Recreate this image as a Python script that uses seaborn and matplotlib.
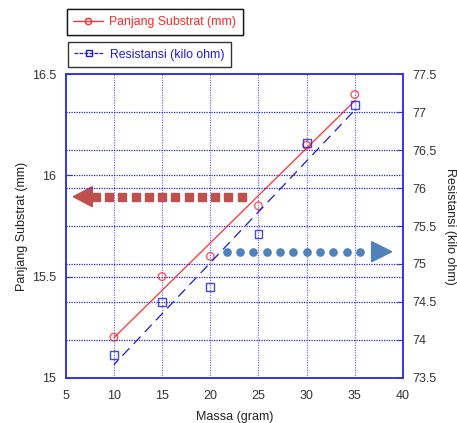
import numpy as np
import pandas as pd
import matplotlib
matplotlib.use("Agg")
import matplotlib.pyplot as plt
import seaborn as sns
from matplotlib.lines import Line2D
from matplotlib.patches import Polygon

massa = [10, 15, 20, 25, 30, 35]
panjang = [15.2, 15.5, 15.6, 15.85, 16.15, 16.4]
resistansi = [73.8, 74.5, 74.7, 75.4, 76.6, 77.1]
label_panjang = "Panjang Substrat (mm)"
label_res = "Resistansi (kilo ohm)"

df = pd.DataFrame({"massa": massa, "panjang": panjang, "res": resistansi})

sns.set_style("white")
plt.rcParams['font.family'] = ['Liberation Sans', 'DejaVu Sans']

RED = "#FF3030"
BLUE = "#1A1AE6"
FRAME = "#3333EE"

fig = plt.figure(figsize=(4.57, 4.23), dpi=100)
ax = fig.add_axes([0.1438, 0.1071, 0.7380, 0.7172])
ax2 = ax.twinx()

ax.set_xlim(5, 40)
ax.set_ylim(15, 16.5)
ax2.set_ylim(73.5, 77.5)
ax.set_xticks(np.arange(5, 41, 5))
ax.set_yticks([15, 15.5, 16, 16.5])
ax.set_yticklabels(["15", "15.5", "16", "16.5"])
ax2.set_yticks(np.arange(73.5, 77.6, 0.5))
ax2.set_yticklabels(["73.5", "74", "74.5", "75", "75.5", "76", "76.5", "77", "77.5"])

ax.grid(False)
ax2.grid(False)
for xv in np.arange(10, 40, 5):
    ax.axvline(xv, color="#7070FF", lw=0.9, ls=(0, (1, 1)), zorder=0)
for yv in [15.5, 16]:
    ax.axhline(yv, color="#2222DD", lw=0.9, ls=(0, (1, 1)), zorder=0)
for yv in np.arange(74, 77.1, 0.5):
    ax2.axhline(yv, color="#2222DD", lw=0.9, ls=(0, (1, 1)), zorder=0)

sns.regplot(data=df, x="massa", y="panjang", ax=ax, ci=None, marker="o",
            scatter_kws=dict(s=30, facecolors="none", edgecolors=RED, linewidths=1.0),
            line_kws=dict(color=RED, lw=0.9))
sns.regplot(data=df, x="massa", y="res", ax=ax2, ci=None, marker="s",
            scatter_kws=dict(s=32, facecolors="none", edgecolors=BLUE, linewidths=1.0),
            line_kws=dict(color=BLUE, lw=0.9, ls=(3, (8, 5))))

for a in (ax, ax2):
    for sp in a.spines.values():
        sp.set_color(FRAME)
        sp.set_linewidth(1.2)
ax.tick_params(axis="y", direction="in", length=4, color=FRAME, labelsize=9,
               labelcolor="#333333", pad=7)
ax.tick_params(axis="x", direction="in", length=4, color=FRAME, labelsize=9,
               labelcolor="#333333", pad=9)
ax2.tick_params(axis="y", direction="in", length=4, color=FRAME, labelsize=9,
                labelcolor="#333333", pad=7)

ax.set_xlabel("Massa (gram)", fontsize=9, color="#222222", labelpad=6)
ax.set_ylabel(label_panjang, fontsize=9, color="#222222", labelpad=3)
ax2.set_ylabel(label_res, fontsize=9, color="#222222", rotation=-90, labelpad=14)

# decorative arrows
tr = ax.transAxes
yr = 0.5966
xs = np.linspace(0.089, 0.522, 12)
ax.plot(xs, [yr] * len(xs), ls="none", marker="s", ms=5.2, color="#C0504D",
        transform=tr, clip_on=False, zorder=5)
ax.add_patch(Polygon([[0.0225, yr], [0.079, yr + 0.033], [0.079, yr - 0.033]],
                     closed=True, color="#C0504D", transform=tr, zorder=5))
yb = 0.4153
xb = np.linspace(0.477, 0.873, 11)
ax.plot(xb, [yb] * len(xb), ls="none", marker="o", ms=5.2, color="#4F81BD",
        transform=tr, clip_on=False, zorder=5)
ax.add_patch(Polygon([[0.9665, yb], [0.907, yb + 0.033], [0.907, yb - 0.033]],
                     closed=True, color="#4F81BD", transform=tr, zorder=5))

h1 = Line2D([], [], color=RED, lw=0.9, marker="o", ms=4.5, mfc="none", mec=RED)
h2 = Line2D([], [], color=BLUE, lw=0.9, marker="s", ms=4.5, mfc="none", mec=BLUE,
            ls=(0, (3, 1)))
leg1 = fig.legend([h1], [label_panjang], loc="upper left", bbox_to_anchor=(0.146, 0.978),
                  frameon=True, fancybox=False, edgecolor="black", fontsize=8.8,
                  handlelength=2.4, handletextpad=0.5, borderpad=0.55, borderaxespad=0,
                  labelcolor=RED)
leg1.get_frame().set_linewidth(1.0)
leg2 = fig.legend([h2], [label_res], loc="upper left", bbox_to_anchor=(0.148, 0.9007),
                  frameon=True, fancybox=False, edgecolor="black", fontsize=8.8,
                  handlelength=2.4, handletextpad=0.5, borderpad=0.55, borderaxespad=0,
                  labelcolor=BLUE)
leg2.get_frame().set_linewidth(1.0)
fig.add_artist(leg1)

fig.savefig("out.png", dpi=100)
